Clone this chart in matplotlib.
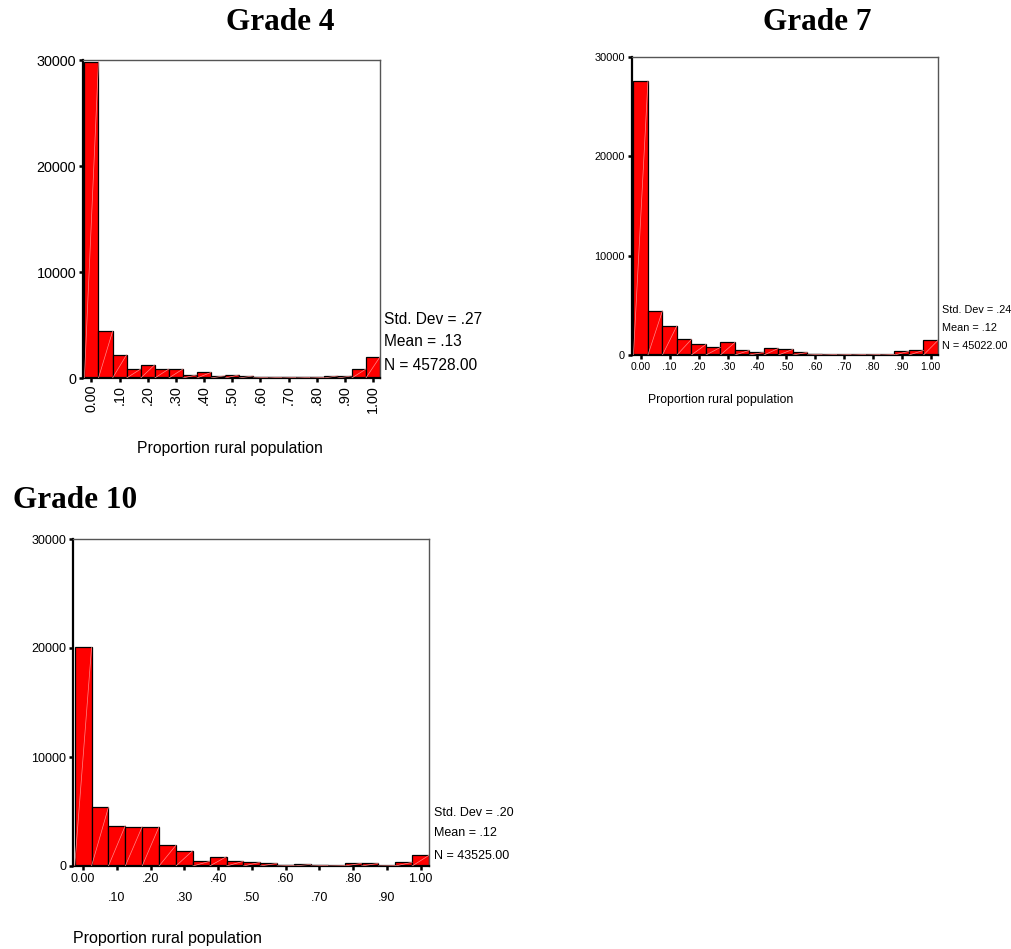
import matplotlib
matplotlib.use("Agg")
import matplotlib.pyplot as plt
import numpy as np

plt.rcParams['font.family'] = ['Liberation Sans', 'DejaVu Sans']

# bin centres (proportion rural population), width .05
bins = [0.00, 0.05, 0.10, 0.15, 0.20, 0.25, 0.30, 0.35, 0.40, 0.45, 0.50,
        0.55, 0.60, 0.65, 0.70, 0.75, 0.80, 0.85, 0.90, 0.95, 1.00]

grade4 = [29850, 4400, 2200, 850, 1250, 850, 850, 300, 530, 220, 300,
          200, 60, 60, 50, 50, 50, 200, 200, 850, 2000]
grade7 = [27600, 4460, 2950, 1580, 1070, 770, 1270, 470, 270, 670, 570,
          270, 70, 50, 50, 50, 50, 50, 370, 470, 1475]
grade10 = [20050, 5390, 3700, 3610, 3610, 1900, 1410, 430, 860, 430, 340,
           245, 60, 150, 60, 30, 245, 245, 30, 340, 980]

stats4 = ["Std. Dev = .27", "Mean = .13", "N = 45728.00"]
stats7 = ["Std. Dev = .24", "Mean = .12", "N = 45022.00"]
stats10 = ["Std. Dev = .20", "Mean = .12", "N = 43525.00"]

tick_pos = [0.0, 0.1, 0.2, 0.3, 0.4, 0.5, 0.6, 0.7, 0.8, 0.9, 1.0]
tick_lab = ["0.00", ".10", ".20", ".30", ".40", ".50", ".60", ".70", ".80", ".90", "1.00"]
yticks = [0, 10000, 20000, 30000]

W, H = 1011, 949
fig = plt.figure(figsize=(W / 100, H / 100), dpi=100)


def px_axes(l, t, r, b):
    return fig.add_axes([l / W, 1 - b / H, (r - l) / W, (b - t) / H])


def histo(ax, counts, ysize):
    width = 0.05
    ax.bar(bins, counts, width=width, color='#ff0000', edgecolor='black',
           linewidth=0.9, zorder=2)
    for x, h in zip(bins, counts):
        ax.plot([x - width / 2, x + width / 2], [0, h], color='#ff8a8a',
                lw=0.5, zorder=3)
    ax.set_xlim(-0.03, 1.025)
    ax.set_ylim(0, 30000)
    ax.set_yticks(yticks)
    ax.set_yticklabels([str(v) for v in yticks], fontsize=ysize)
    for s in ['top', 'right']:
        ax.spines[s].set_color('#555555')
        ax.spines[s].set_linewidth(1.0)
    for s in ['left', 'bottom']:
        ax.spines[s].set_color('black')
        ax.spines[s].set_linewidth(1.6)
    ax.tick_params(axis='both', which='both', direction='out', length=3,
                   width=1.8, color='black', pad=2)


def stats(lines, x, ys, size):
    for txt, y in zip(lines, ys):
        fig.text(x / W, 1 - y / H, txt, fontsize=size, va='center', ha='left')


# Grade 4
ax4 = px_axes(83, 60, 380, 378)
histo(ax4, grade4, 10.4)
ax4.set_xticks(tick_pos)
ax4.set_xticklabels(tick_lab, rotation=90, fontsize=10.4)
stats(stats4, 384, [319, 342, 365], 11.2)
fig.text(230 / W, 1 - 448 / H, "Proportion rural population", fontsize=11.3,
         ha='center', va='center')
fig.text(280 / W, 1 - 22 / H, "Grade 4", family='Liberation Serif',
         fontweight='bold', fontsize=22.5, ha='center', va='center')

# Grade 7
ax7 = px_axes(632, 57, 938, 355)
histo(ax7, grade7, 7.9)
ax7.set_xticks(tick_pos)
ax7.set_xticklabels(tick_lab, fontsize=7.5)
stats(stats7, 942, [310, 328, 346], 7.8)
fig.text(648 / W, 1 - 400 / H, "Proportion rural population", fontsize=8.8,
         ha='left', va='center')
fig.text(817 / W, 1 - 22 / H, "Grade 7", family='Liberation Serif',
         fontweight='bold', fontsize=22.5, ha='center', va='center')

# Grade 10
ax10 = px_axes(73, 539, 429, 866)
histo(ax10, grade10, 9)
ax10.set_xticks(tick_pos[::2])
ax10.set_xticklabels(tick_lab[::2], fontsize=9)
ax10.set_xticks(tick_pos[1::2], minor=True)
ax10.set_xticklabels(tick_lab[1::2], minor=True, fontsize=9)
ax10.tick_params(axis='x', which='minor', pad=16)
stats(stats10, 434, [813, 833, 856], 9)
fig.text(73 / W, 1 - 939 / H, "Proportion rural population", fontsize=11.5,
         ha='left', va='center')
fig.text(75 / W, 1 - 500 / H, "Grade 10", family='Liberation Serif',
         fontweight='bold', fontsize=22.5, ha='center', va='center')

fig.savefig("out.png", dpi=100)
